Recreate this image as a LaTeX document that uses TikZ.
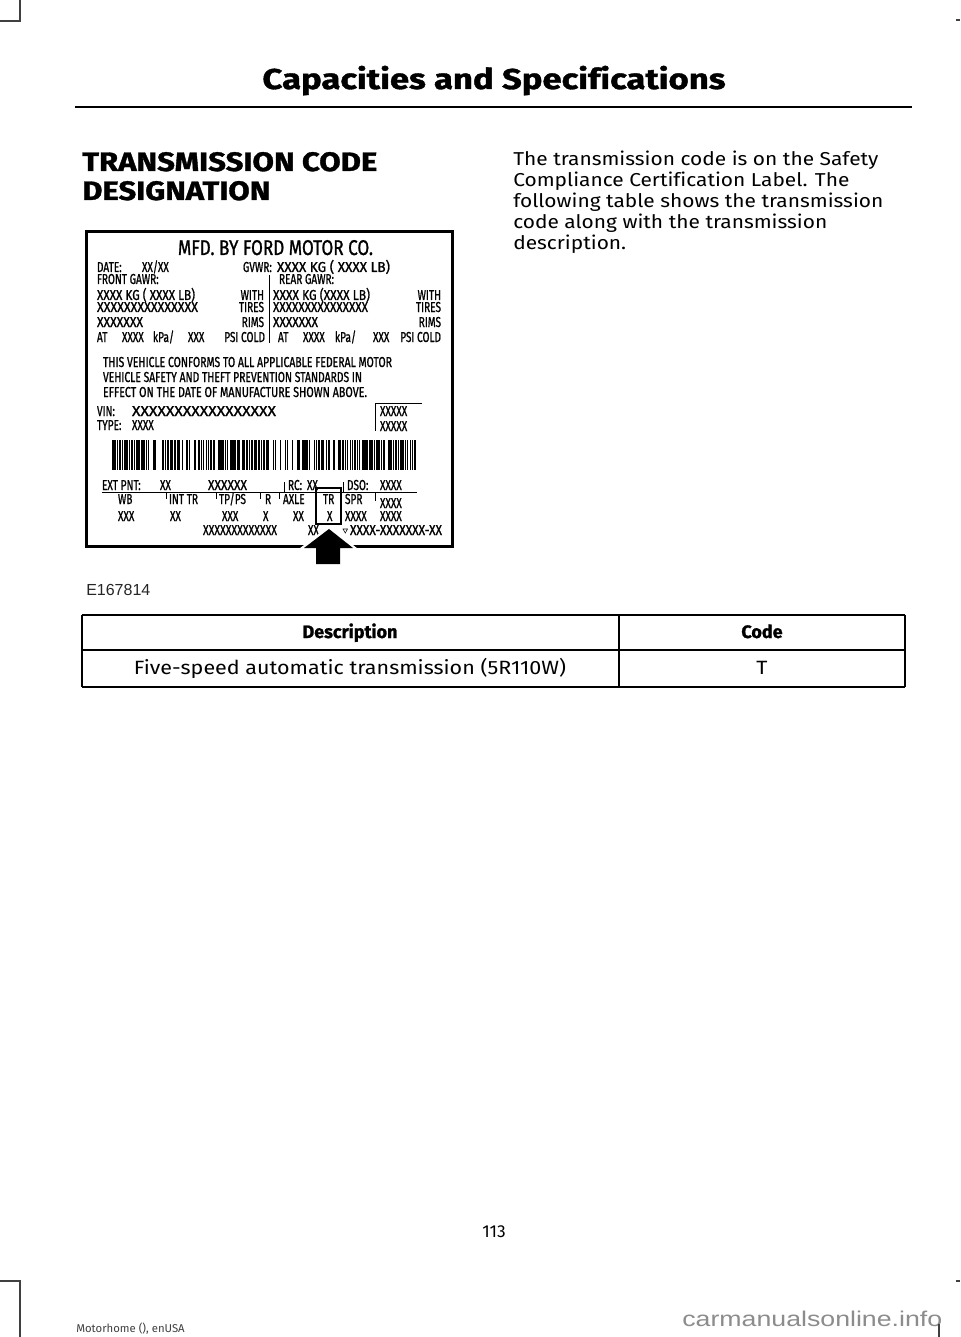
\documentclass[tikz,border=0pt]{standalone}
\usepackage{fontspec}
\usepackage{graphicx}
\setmainfont[Ligatures=NoCommon]{Fira Sans}
\newfontfamily\widefont[FakeStretch=1.12, Ligatures=NoCommon]{Fira Sans}
\newfontfamily\heavyfont[BoldFeatures={FakeBold=1.2}, Ligatures=NoCommon]{Fira Sans}
\newfontfamily\lblfont[FakeStretch=0.7, FakeBold=0.9]{Fira Sans}
\newfontfamily\wmfont{Liberation Sans}
\newdimen\px \px=0.75pt
\newcounter{lbn}
\tikzset{
  lbl/.style={font=\lblfont\fontsize{10.8}{12}\selectfont, inner sep=0pt, outer sep=0pt},
  lblbig/.style={font=\lblfont\fontsize{16}{18}\selectfont, inner sep=0pt, outer sep=0pt},
  crop/.style={line width=1.1pt, draw=black!75},
  hdr/.style={font=\heavyfont\bfseries\fontsize{21.5}{24}\selectfont, inner sep=0pt},
  sec/.style={font=\heavyfont\bfseries\fontsize{20}{22}\selectfont, inner sep=0pt},
  body/.style={font=\widefont\fontsize{14}{15.75}\selectfont, inner sep=0pt},
  thd/.style={font=\heavyfont\bfseries\fontsize{13.5}{15}\selectfont, inner sep=0pt},
  tbody/.style={font=\widefont\fontsize{14.4}{16}\selectfont, inner sep=0pt},
  tline/.style={line width=1.1pt},
  thin/.style={line width=0.75pt},
}
\newcommand\lblL[3]{\stepcounter{lbn}\node[lbl,anchor=base west] (lb\arabic{lbn}) at (#1,#2) {#3};}
\newcommand\lblR[3]{\stepcounter{lbn}\node[lbl,anchor=base east] (lb\arabic{lbn}) at (#1,#2) {#3};}
\newcommand\lblF[4]{\stepcounter{lbn}\node[lbl,anchor=base west] (lb\arabic{lbn}) at (#1,#2) {\resizebox{#3\px}{\height}{#4}};}
\begin{document}
\begin{tikzpicture}[x=0.75pt,y=-0.75pt]
\useasboundingbox (0,0) rectangle (960,1337);
\fill[white] (0,0) rectangle (960,1337);
% crop marks
\draw[crop] (20,0) -- (20,21) -- (0,21);
\draw[crop] (0,1281) -- (20,1281) -- (20,1337);
\draw[crop] (956,20) -- (960,20);
\draw[crop] (956,1281) -- (960,1281);
% header
\node[hdr,anchor=base] (title) at (494,89) {\resizebox{463\px}{\height}{Capacities and Specifications}};
\draw[line width=1.5pt] (75,107) -- (912,107);
\node[sec,anchor=base west] (sec1) at (82,171) {\resizebox{295\px}{\height}{TRANSMISSION CODE}};
\node[sec,anchor=base west] (sec2) at (82,200) {\resizebox{188\px}{\height}{DESIGNATION}};
\foreach \t [count=\k] in {The transmission code is on the Safety,
  Compliance Certification Label. The,
  following table shows the transmission,
  code along with the transmission,
  description.}
  \node[body,anchor=base west] (body\k) at (513,{166+21*(\k-1)}) {\t};
% label
\draw[line width=2.25pt] (86.5,231.5) rectangle (452.5,546);
\stepcounter{lbn}\node[lblbig,anchor=base west] (mfd) at (178,255) {\resizebox{195\px}{\height}{MFD. BY FORD MOTOR CO.}};
\lblL{97}{272}{DATE:}
\lblL{142}{272}{XX/XX}
\lblL{243}{272}{GVWR:}
\lblF{277}{272}{113}{XXXX KG ( XXXX LB)}
\lblL{97}{284}{FRONT GAWR:}
\lblL{279}{284}{REAR GAWR:}
\lblF{97}{300}{98}{XXXX KG ( XXXX LB)}
\lblR{264}{300}{WITH}
\lblF{273}{300}{97}{XXXX KG (XXXX LB)}
\lblR{441}{300}{WITH}
\lblF{97}{312}{101}{XXXXXXXXXXXXXXX}
\lblR{264}{312}{TIRES}
\lblF{273}{312}{95}{XXXXXXXXXXXXXXX}
\lblR{441}{312}{TIRES}
\lblF{97}{327}{46}{XXXXXXX}
\lblR{264}{327}{RIMS}
\lblF{273}{327}{45}{XXXXXXX}
\lblR{441}{327}{RIMS}
\lblL{97}{342}{AT}
\lblL{122}{342}{XXXX}
\lblL{153}{342}{kPa/}
\lblL{188}{342}{XXX}
\lblR{265}{342}{PSI COLD}
\lblL{278}{342}{AT}
\lblL{303}{342}{XXXX}
\lblL{335}{342}{kPa/}
\lblL{373}{342}{XXX}
\lblR{441}{342}{PSI COLD}
\draw[thin] (269,275) -- (269,343);
\lblF{103}{367}{289}{THIS VEHICLE CONFORMS TO ALL APPLICABLE FEDERAL MOTOR}
\lblF{103}{382}{259}{VEHICLE SAFETY AND THEFT PREVENTION STANDARDS IN}
\lblF{103}{397}{264}{EFFECT ON THE DATE OF MANUFACTURE SHOWN ABOVE.}
\lblL{97}{416}{VIN:}
\lblF{132}{416}{144}{XXXXXXXXXXXXXXXXX}
\lblL{97}{430}{TYPE:}
\lblL{132}{430}{XXXX}
\draw[thin] (422,403) -- (375,403) -- (375,431);
\lblL{380}{416}{XXXXX}
\lblL{380}{431}{XXXXX}
% barcode
\foreach \i in {0,...,126}{
  \pgfmathtruncatemacro\r{mod(mod(\i,17)*mod(\i,11)*7+\i*3,10)}
  \pgfmathsetmacro\bw{ifthenelse(\r<3,1.9,1.2)}
  \ifnum\r<8 \fill ({112+2.4*\i},440) rectangle ++(\bw,30); \fi
}
% bottom rows
\lblL{102}{490}{EXT PNT:}
\lblL{160}{490}{XX}
\lblF{208}{490}{39}{XXXXXX}
\lblL{288}{490}{RC:}
\lblL{307}{490}{XX}
\lblL{347}{490}{DSO:}
\lblL{380}{490}{XXXX}
\draw[thin] (102,492) -- (417,492);
\draw[thin] (284,482) -- (284,492);
\draw[thin] (343,482) -- (343,492);
\foreach \tx in {166,216,260,279} \draw[thin] (\tx,492) -- (\tx,499);
\draw[thin] (375,492) -- (375,501);
\lblL{118}{504}{WB}
\lblL{169}{504}{INT TR}
\lblL{219}{504}{TP/PS}
\lblL{265}{504}{R}
\lblL{283}{504}{AXLE}
\lblL{323}{504}{TR}
\lblL{345}{504}{SPR}
\lblL{380}{508}{XXXX}
\lblL{118}{521}{XXX}
\lblL{170}{521}{XX}
\lblL{222}{521}{XXX}
\lblL{263}{521}{X}
\lblL{293}{521}{XX}
\lblL{327}{521}{X}
\lblL{345}{521}{XXXX}
\lblL{380}{521}{XXXX}
\lblF{203}{535}{74}{XXXXXXXXXXXXX}
\lblL{308}{535}{XX}
\draw[line width=0.4pt] (343,529) -- (347.5,529) -- (345.25,533) -- cycle;
\lblF{350}{535}{92}{XXXX-XXXXXXX-XX}
\draw[line width=1.5pt] (316,488) rectangle (341,524);
% arrow
\coordinate (tip) at (329,529);
\draw[white, line width=3.5pt, line join=miter] (tip) -- (353,548) -- (340,548) -- (340,564) -- (316,564) -- (316,548) -- (304,548) -- cycle;
\fill[black] (tip) -- (353,548) -- (340,548) -- (340,564) -- (316,564) -- (316,548) -- (304,548) -- cycle;
\node[anchor=base west, inner sep=0pt, font=\wmfont\fontsize{12}{14}\selectfont, text=black!85] (fig) at (86,595) {E167814};
% table
\draw[tline] (82,615) -- (905,615);
\draw[line width=1.5pt] (82,650) -- (905,650);
\draw[tline] (82,687) -- (905,687);
\draw[tline] (82,615) -- (82,687);
\draw[tline] (619,615) -- (619,687);
\draw[tline] (905,615) -- (905,687);
\node[thd,anchor=base] (th1) at (350,638) {Description};
\node[thd,anchor=base] (th2) at (762,638) {Code};
\node[tbody,anchor=base] (td1) at (350,674) {Five-speed automatic transmission (5R110W)};
\node[tbody,anchor=base] (td2) at (762,674) {T};
% footer
\node[anchor=base, inner sep=0pt, font=\fontsize{13}{15}\selectfont] (pg) at (494,1237) {113};
\node[anchor=base west, inner sep=0pt, font=\fontsize{8.5}{10}\selectfont, text=black!75] (foot) at (76,1332) {Motorhome (), enUSA};
\node[anchor=base west, inner sep=0pt, font=\wmfont\fontsize{16}{18}\selectfont, text=black!45] (wm) at (682,1326) {\resizebox{260\px}{\height}{carmanualsonline.info}};
\draw[crop] (939,1324) -- (939,1337);
\end{tikzpicture}
\end{document}
